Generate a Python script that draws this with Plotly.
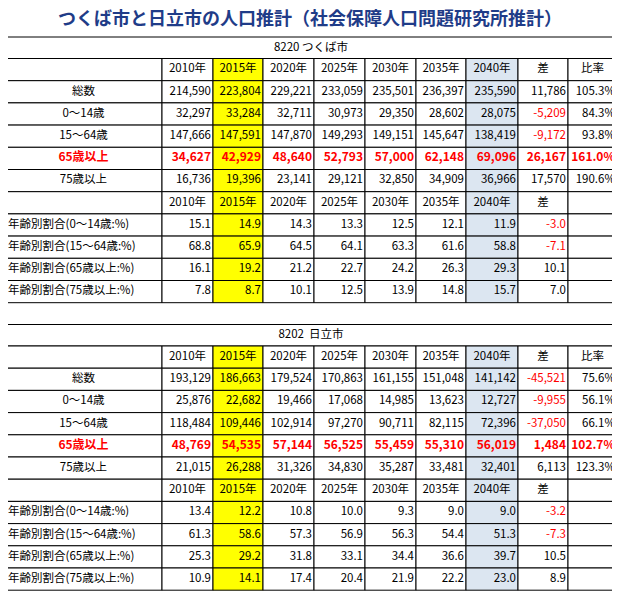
import plotly.graph_objects as go

title = "つくば市と日立市の人口推計（社会保障人口問題研究所推計）"
years = ["2010年", "2015年", "2020年", "2025年", "2030年", "2035年", "2040年"]
count_labels = ["総数", "0～14歳", "15～64歳", "65歳以上", "75歳以上"]
pct_labels = ["年齢別割合(0～14歳:%)", "年齢別割合(15～64歳:%)", "年齢別割合(65歳以上:%)", "年齢別割合(75歳以上:%)"]

tsukuba_name = "8220 つくば市"
tsukuba_counts = [
    [214590, 223804, 229221, 233059, 235501, 236397, 235590],
    [32297, 33284, 32711, 30973, 29350, 28602, 28075],
    [147666, 147591, 147870, 149293, 149151, 145647, 138419],
    [34627, 42929, 48640, 52793, 57000, 62148, 69096],
    [16736, 19396, 23141, 29121, 32850, 34909, 36966],
]
tsukuba_diff = [11786, -5209, -9172, 26167, 17570]
tsukuba_ratio = ["105.3%", "84.3%", "93.8%", "161.0%", "190.6%"]
tsukuba_pct = [
    [15.1, 14.9, 14.3, 13.3, 12.5, 12.1, 11.9],
    [68.8, 65.9, 64.5, 64.1, 63.3, 61.6, 58.8],
    [16.1, 19.2, 21.2, 22.7, 24.2, 26.3, 29.3],
    [7.8, 8.7, 10.1, 12.5, 13.9, 14.8, 15.7],
]
tsukuba_pct_diff = [-3.0, -7.1, 10.1, 7.0]

hitachi_name = "8202  日立市"
hitachi_counts = [
    [193129, 186663, 179524, 170863, 161155, 151048, 141142],
    [25876, 22682, 19466, 17068, 14985, 13623, 12727],
    [118484, 109446, 102914, 97270, 90711, 82115, 72396],
    [48769, 54535, 57144, 56525, 55459, 55310, 56019],
    [21015, 26288, 31326, 34830, 35287, 33481, 32401],
]
hitachi_diff = [-45521, -9955, -37050, 1484, 6113]
hitachi_ratio = ["75.6%", "56.1%", "66.1%", "102.7%", "123.3%"]
hitachi_pct = [
    [13.4, 12.2, 10.8, 10.0, 9.3, 9.0, 9.0],
    [61.3, 58.6, 57.3, 56.9, 56.3, 54.4, 51.3],
    [25.3, 29.2, 31.8, 33.1, 34.4, 36.6, 39.7],
    [10.9, 14.1, 17.4, 20.4, 21.9, 22.2, 23.0],
]
hitachi_pct_diff = [-3.2, -7.3, 10.5, 8.9]

XB = [5, 162, 213, 263, 314, 365, 416, 466, 518, 568, 617]
FONT = "Noto Sans CJK JP"
RED = "#FF0000"

fig = go.Figure()
shapes = []
texts = {"x": [], "y": [], "t": [], "c": [], "pos": [], "b": []}


def add_text(x, y, t, color="black", pos="middle center", bold=False):
    texts["x"].append(x); texts["y"].append(y); texts["t"].append(t)
    texts["c"].append(color); texts["pos"].append(pos); texts["b"].append(bold)


def fill_for(col):
    if col == 2:
        return "#FFFF00"
    if col == 7:
        return "#DCE6F1"
    return "white"


def block(top, name, counts, diff, ratio, pct, pct_diff):
    th = 21.5
    rh = 22.2
    shapes.append(dict(type="rect", x0=XB[0], x1=XB[-1], y0=top, y1=top + th, layer="below",
                       line=dict(color="black", width=1), fillcolor="white"))
    add_text((XB[0] + XB[-1]) / 2, top + th / 2, name)
    rows = [("hdr", "", years + ["差", "比率"])]
    for i, lab in enumerate(count_labels):
        rows.append(("cnt", lab, [f"{v:,}" for v in counts[i]] + [f"{diff[i]:,}", ratio[i]], i))
    rows.append(("hdr2", "", years + ["差", ""]))
    for i, lab in enumerate(pct_labels):
        rows.append(("pct", lab, [f"{v:.1f}" for v in pct[i]] + [f"{pct_diff[i]:.1f}", ""], i))
    y = top + th
    for r in rows:
        kind, lab, vals = r[0], r[1], r[2]
        y0, y1 = y, y + rh
        ym = (y0 + y1) / 2
        for c in range(10):
            shapes.append(dict(type="rect", x0=XB[c], x1=XB[c + 1], y0=y0, y1=y1, layer="below",
                               line=dict(color="black", width=1), fillcolor=fill_for(c)))
        is65 = kind == "cnt" and r[3] == 3
        if lab:
            if kind == "pct":
                add_text(XB[0] + 3, ym, lab, pos="middle right")
            else:
                add_text((XB[0] + XB[1]) / 2, ym, lab, RED if is65 else "black", bold=is65)
        for j, v in enumerate(vals):
            c = j + 1
            if v == "":
                continue
            if kind.startswith("hdr"):
                add_text((XB[c] + XB[c + 1]) / 2, ym, v)
            else:
                color = RED if (is65 or (j == 7 and v.startswith("-"))) else "black"
                add_text(XB[c + 1] - 2, ym, v, color, pos="middle left", bold=is65)
        y = y1


block(37, tsukuba_name, tsukuba_counts, tsukuba_diff, tsukuba_ratio, tsukuba_pct, tsukuba_pct_diff)
block(324.5, hitachi_name, hitachi_counts, hitachi_diff, hitachi_ratio, hitachi_pct, hitachi_pct_diff)

for b in (False, True):
    idx = [i for i in range(len(texts["x"])) if texts["b"][i] == b]
    fig.add_trace(go.Scatter(
        x=[texts["x"][i] for i in idx], y=[texts["y"][i] for i in idx],
        text=[f"<b>{texts['t'][i]}</b>" if b else texts["t"][i] for i in idx],
        mode="text", textposition=[texts["pos"][i] for i in idx],
        textfont=dict(family=FONT, size=12 if b else 11.5,
                      color=[texts["c"][i] for i in idx]),
        hoverinfo="skip", showlegend=False, cliponaxis=False))

fig.add_annotation(x=310, y=17, xref="x", yref="y", text=f"<b>{title}</b>", showarrow=False,
                   font=dict(family=FONT, size=18, color="#1F3C88"))

fig.update_layout(
    width=612, height=588, margin=dict(l=0, r=0, t=0, b=0),
    paper_bgcolor="white", plot_bgcolor="white", shapes=shapes,
    xaxis=dict(range=[8, 620], visible=False, fixedrange=True),
    yaxis=dict(range=[596, 8], visible=False, fixedrange=True),
)
fig.write_html("out.html")
